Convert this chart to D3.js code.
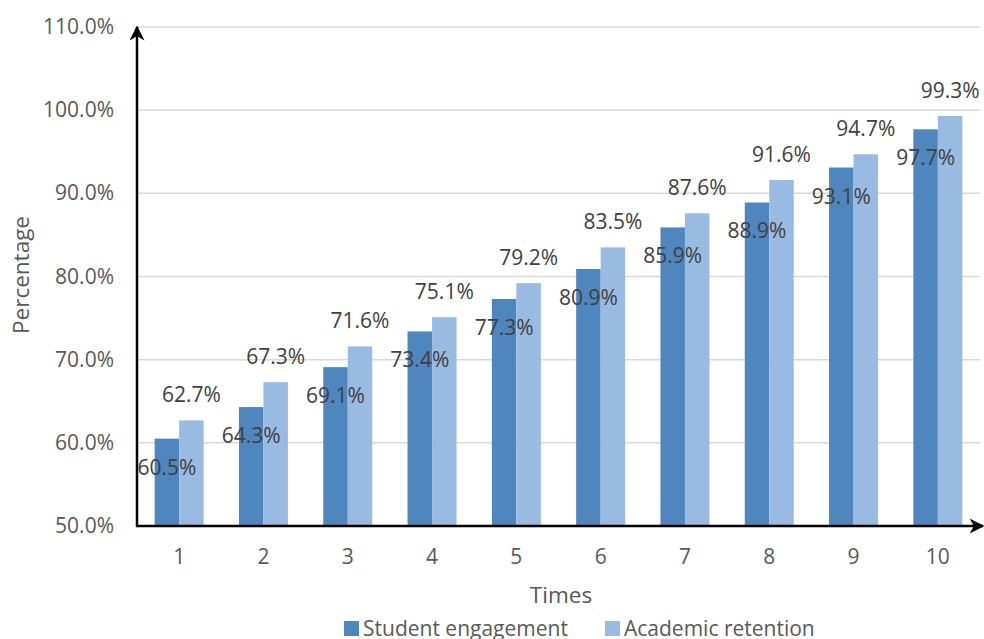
<!DOCTYPE html>
<html>
<head>
<meta charset="utf-8">
<script src="https://cdn.jsdelivr.net/npm/d3@7"></script>
<style>
  body { margin: 0; background: #fff; }
  text { font-family: "Open Sans", sans-serif; }
</style>
</head>
<body>
<div id="chart"></div>
<script>
var times = ["1", "2", "3", "4", "5", "6", "7", "8", "9", "10"];
var engagement = [60.5, 64.3, 69.1, 73.4, 77.3, 80.9, 85.9, 88.9, 93.1, 97.7];
var retention = [62.7, 67.3, 71.6, 75.1, 79.2, 83.5, 87.6, 91.6, 94.7, 99.3];
var yTicks = [50, 60, 70, 80, 90, 100, 110];
var seriesNames = ["Student engagement", "Academic retention"];
var colors = ["#4f86be", "#99bbe1"];

var w = 984, h = 639;
var plotLeft = 137, plotRight = 980, plotTop = 27, plotBottom = 526;

var svg = d3.select("#chart").append("svg")
  .attr("width", w)
  .attr("height", h);

var x = d3.scaleBand().domain(times).range([plotLeft, plotRight]).padding(0);
var y = d3.scaleLinear().domain([50, 110]).range([plotBottom, plotTop]);

// gridlines
svg.selectAll(".grid")
  .data(yTicks.slice(1))
  .enter().append("line")
  .attr("x1", plotLeft).attr("x2", plotRight)
  .attr("y1", function(d) { return y(d); })
  .attr("y2", function(d) { return y(d); })
  .attr("stroke", "#d9d9d9")
  .attr("stroke-width", 1.5);

// y tick labels
svg.selectAll(".ylab")
  .data(yTicks)
  .enter().append("text")
  .attr("x", 114)
  .attr("y", function(d) { return y(d) + 7; })
  .attr("text-anchor", "end")
  .attr("font-size", 21)
  .attr("fill", "#595959")
  .text(function(d) { return d.toFixed(1) + "%"; });

// bars
var groupW = 49, barW = groupW / 2;
var rows = times.map(function(t, i) { return {t: t, e: engagement[i], r: retention[i]}; });

var g = svg.selectAll(".grp").data(rows).enter().append("g")
  .attr("transform", function(d) { return "translate(" + (x(d.t) + x.bandwidth() / 2 - groupW / 2) + ",0)"; });

g.append("rect")
  .attr("x", 0)
  .attr("width", barW)
  .attr("y", function(d) { return y(d.e); })
  .attr("height", function(d) { return plotBottom - y(d.e); })
  .attr("fill", colors[0]);

g.append("rect")
  .attr("x", barW)
  .attr("width", barW)
  .attr("y", function(d) { return y(d.r); })
  .attr("height", function(d) { return plotBottom - y(d.r); })
  .attr("fill", colors[1]);

// value labels
g.append("text")
  .attr("x", barW / 2)
  .attr("y", function(d) { return y(d.e) + 36; })
  .attr("text-anchor", "middle")
  .attr("font-size", 21)
  .attr("fill", "#404040")
  .text(function(d) { return d.e.toFixed(1) + "%"; });

g.append("text")
  .attr("x", barW * 1.5)
  .attr("y", function(d) { return y(d.r) - 18; })
  .attr("text-anchor", "middle")
  .attr("font-size", 21)
  .attr("fill", "#404040")
  .text(function(d) { return d.r.toFixed(1) + "%"; });

// axes with arrows
var defs = svg.append("defs");
defs.append("marker")
  .attr("id", "arrow")
  .attr("viewBox", "0 0 10 10")
  .attr("refX", 9).attr("refY", 5)
  .attr("markerWidth", 6).attr("markerHeight", 6)
  .attr("orient", "auto")
  .append("path")
  .attr("d", "M0,0 L10,5 L0,10 L3,5 Z")
  .attr("fill", "#000");

svg.append("line")
  .attr("x1", plotLeft).attr("y1", plotBottom + 1)
  .attr("x2", plotLeft).attr("y2", plotTop)
  .attr("stroke", "#000").attr("stroke-width", 2.5)
  .attr("marker-end", "url(#arrow)");

svg.append("line")
  .attr("x1", plotLeft - 1).attr("y1", plotBottom)
  .attr("x2", 983).attr("y2", plotBottom)
  .attr("stroke", "#000").attr("stroke-width", 2.5)
  .attr("marker-end", "url(#arrow)");

// x tick labels
svg.selectAll(".xlab")
  .data(times)
  .enter().append("text")
  .attr("x", function(d) { return x(d) + x.bandwidth() / 2; })
  .attr("y", 564)
  .attr("text-anchor", "middle")
  .attr("font-size", 21)
  .attr("fill", "#595959")
  .text(function(d) { return d; });

// axis titles
svg.append("text")
  .attr("x", 561).attr("y", 603)
  .attr("text-anchor", "middle")
  .attr("font-size", 22.5)
  .attr("fill", "#595959")
  .text("Times");

svg.append("text")
  .attr("transform", "translate(29,275) rotate(-90)")
  .attr("text-anchor", "middle")
  .attr("font-size", 22.5)
  .attr("fill", "#595959")
  .text("Percentage");

// legend
var legendX = [344, 605];
var leg = svg.selectAll(".leg").data(seriesNames).enter().append("g")
  .attr("transform", function(d, i) { return "translate(" + legendX[i] + ",621)"; });
leg.append("rect")
  .attr("width", 15).attr("height", 15)
  .attr("fill", function(d, i) { return colors[i]; });
leg.append("text")
  .attr("x", 19).attr("y", 15)
  .attr("font-size", 21)
  .attr("fill", "#595959")
  .text(function(d) { return d; });
</script>
</body>
</html>
